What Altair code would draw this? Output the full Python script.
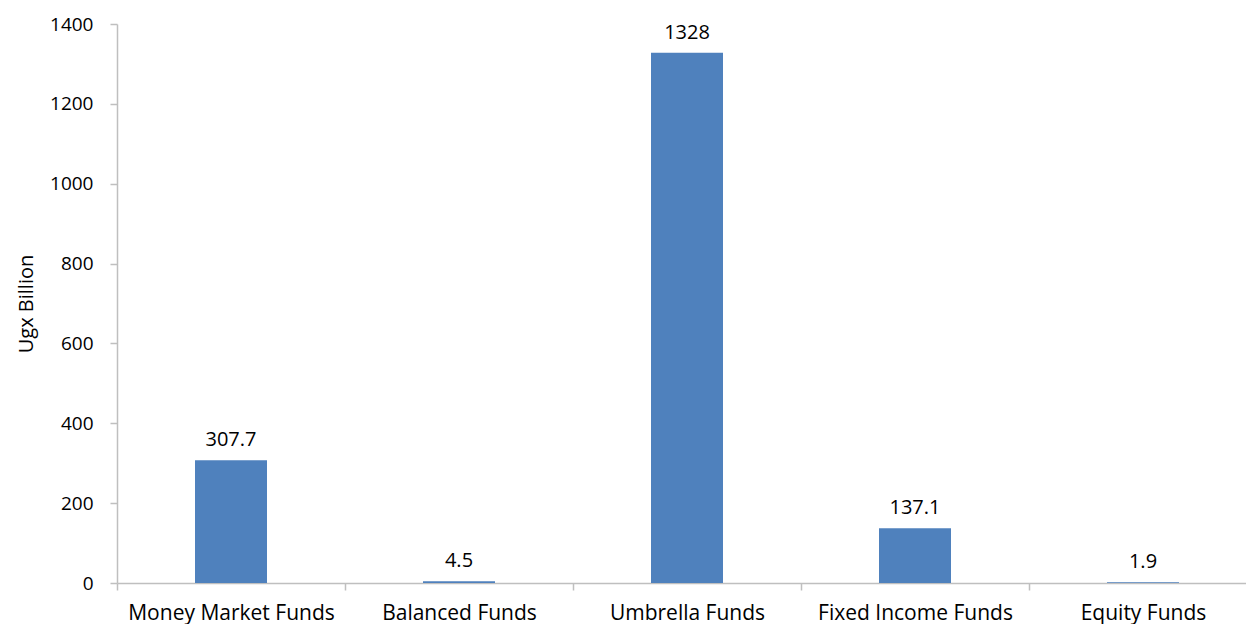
import altair as alt
import pandas as pd

categories = ["Money Market Funds", "Balanced Funds", "Umbrella Funds", "Fixed Income Funds", "Equity Funds"]
values = [307.7, 4.5, 1328, 137.1, 1.9]
labels = ["307.7", "4.5", "1328", "137.1", "1.9"]

df = pd.DataFrame({"cat": categories, "val": values, "lab": labels})

FONT = "Open Sans"

x = alt.X("cat:N", sort=categories, title=None,
          scale=alt.Scale(paddingInner=0, paddingOuter=0, range=[0, 1140]),
          axis=alt.Axis(labelAngle=0, labelFontSize=21, labelFont=FONT, labelColor="black",
                        labelPadding=12, labelLimit=0, tickBand="extent", tickSize=7,
                        tickColor="#BFBFBF", domainColor="#BFBFBF", domainWidth=1.5, tickWidth=1.5))
y = alt.Y("val:Q", title="Ugx Billion",
          scale=alt.Scale(domain=[0, 1400], nice=False),
          axis=alt.Axis(values=[0, 200, 400, 600, 800, 1000, 1200, 1400], grid=False, format="d",
                        labelFontSize=19, labelFont=FONT, labelColor="black", labelPadding=17,
                        tickSize=7, tickColor="#BFBFBF", domainColor="#BFBFBF",
                        domainWidth=1.5, tickWidth=1.5,
                        titleFontSize=20, titleFont=FONT, titleFontWeight="normal",
                        titleColor="black", titlePadding=13))

bars = alt.Chart(df).mark_bar(size=72, color="#4F81BD").encode(x=x, y=y)
text = alt.Chart(df).mark_text(dy=-20, fontSize=20, font=FONT, color="black", baseline="middle").encode(
    x=alt.X("cat:N", sort=categories), y="val:Q", text="lab:N")

chart = (bars + text).properties(
    width=1129, height=559,
    autosize=alt.AutoSizeParams(type="none"),
    padding={"left": 117, "top": 24, "right": 0, "bottom": 41},
).configure_view(stroke=None)

chart.save("out.html", embed_options={"renderer": "svg", "actions": False})
